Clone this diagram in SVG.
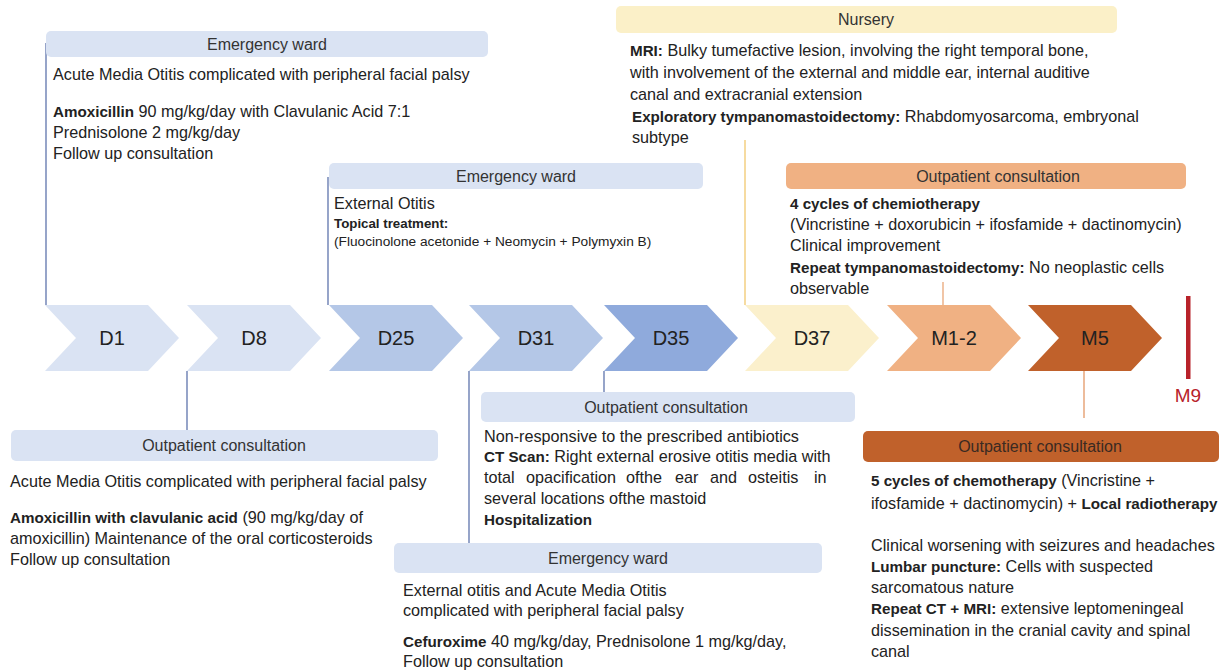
<svg xmlns="http://www.w3.org/2000/svg" width="1224" height="671" viewBox="0 0 1224 671">
<style>
text{font-family:"Liberation Sans",Arial,sans-serif;fill:#222;}
.hd{font-size:16px;text-anchor:middle;fill:#333;}
.bd{font-size:16.2px;}
.bd .b,.bd.b{font-size:15.2px;font-weight:bold;}
.sm{font-size:13.7px;}
.sm.b{font-size:13.3px;font-weight:bold;}
.lab{font-size:20px;text-anchor:middle;fill:#222;}
.hb{fill:#DAE3F3;}
.ln{stroke:#5F74AC;stroke-width:1.3;fill:none;}
</style>
<defs>
<path id="chev" d="M0,0 H103 L134,33 L103,66 H0 L31,33 Z"/>
</defs>
<g id="connectors">
<line class="ln" x1="46" y1="43" x2="46" y2="305"/>
<line class="ln" x1="328" y1="177" x2="328" y2="305"/>
<line class="ln" x1="187" y1="371" x2="187" y2="430"/>
<line class="ln" x1="469" y1="371" x2="469" y2="543"/>
<line class="ln" x1="604" y1="371" x2="604" y2="392"/>
<line x1="745" y1="140" x2="745" y2="305" stroke="#F2C86E" stroke-width="1.3"/>
<line x1="943" y1="282" x2="943" y2="305" stroke="#E9A677" stroke-width="1.3"/>
<line x1="1084" y1="371" x2="1084" y2="418" stroke="#E39866" stroke-width="1.3"/>
</g>
<g id="timeline">
<g id="d1"><use href="#chev" x="45" y="305" fill="#DAE3F3"/><text class="lab" x="112" y="345">D1</text></g>
<g id="d8"><use href="#chev" x="187" y="305" fill="#DAE3F3"/><text class="lab" x="254" y="345">D8</text></g>
<g id="d25"><use href="#chev" x="329" y="305" fill="#B4C7E7"/><text class="lab" x="396" y="345">D25</text></g>
<g id="d31"><use href="#chev" x="469" y="305" fill="#B4C7E7"/><text class="lab" x="536" y="345">D31</text></g>
<g id="d35"><use href="#chev" x="604" y="305" fill="#8FAADC"/><text class="lab" x="671" y="345">D35</text></g>
<g id="d37"><use href="#chev" x="745" y="305" fill="#FBF0CC"/><text class="lab" x="812" y="345">D37</text></g>
<g id="m12"><use href="#chev" x="887" y="305" fill="#F0B183"/><text class="lab" x="954" y="345">M1-2</text></g>
<g id="m5"><use href="#chev" x="1028" y="305" fill="#C0612B"/><text class="lab" x="1095" y="345">M5</text></g>
<g id="m9"><rect x="1186" y="296" width="4.5" height="83" fill="#B8222A"/><text x="1188" y="402" font-size="19" text-anchor="middle" style="fill:#B8222A">M9</text></g>
</g>
<g id="er1">
<rect class="hb" x="46" y="31" width="442" height="26" rx="5"/>
<text class="hd" x="267" y="50">Emergency ward</text>
<text class="bd" x="53" y="80">Acute Media Otitis complicated with peripheral facial palsy</text>
<text class="bd" x="53" y="117"><tspan class="b">Amoxicillin</tspan> 90 mg/kg/day with Clavulanic Acid 7:1</text>
<text class="bd" x="53" y="138">Prednisolone 2 mg/kg/day</text>
<text class="bd" x="53" y="159">Follow up consultation</text>
</g>
<g id="er2">
<rect class="hb" x="329" y="163" width="374" height="26" rx="5"/>
<text class="hd" x="516" y="182">Emergency ward</text>
<text class="bd" x="334" y="209">External Otitis</text>
<text class="sm b" x="334" y="228">Topical treatment:</text>
<text class="sm" x="334" y="246">(Fluocinolone acetonide + Neomycin + Polymyxin B)</text>
</g>
<g id="nursery">
<rect x="616" y="6" width="501" height="27" rx="5" fill="#FBF0C8"/>
<text class="hd" x="866" y="25">Nursery</text>
<text class="bd" x="630" y="56"><tspan class="b">MRI:</tspan> Bulky tumefactive lesion, involving the right temporal bone,</text>
<text class="bd" x="630" y="78">with involvement of the external and middle ear, internal auditive</text>
<text class="bd" x="630" y="100">canal and extracranial extension</text>
<text class="bd" x="632" y="122"><tspan class="b">Exploratory tympanomastoidectomy:</tspan> Rhabdomyosarcoma, embryonal</text>
<text class="bd" x="632" y="143">subtype</text>
</g>
<g id="oc-m12">
<rect x="786" y="163" width="400" height="26" rx="5" fill="#F0B183"/>
<text class="hd" x="998" y="182">Outpatient consultation</text>
<text class="bd b" x="790" y="209">4 cycles of chemiotherapy</text>
<text class="bd" x="790" y="230">(Vincristine + doxorubicin + ifosfamide + dactinomycin)</text>
<text class="bd" x="790" y="251">Clinical improvement</text>
<text class="bd" x="790" y="273"><tspan class="b">Repeat tympanomastoidectomy:</tspan> No neoplastic cells</text>
<text class="bd" x="790" y="294">observable</text>
</g>
<g id="oc-d8">
<rect class="hb" x="11" y="430" width="427" height="31" rx="5"/>
<text class="hd" x="224" y="451">Outpatient consultation</text>
<text class="bd" x="10" y="487">Acute Media Otitis complicated with peripheral facial palsy</text>
<text class="bd" x="10" y="523"><tspan class="b">Amoxicillin with clavulanic acid</tspan> (90 mg/kg/day of</text>
<text class="bd" x="10" y="544">amoxicillin) Maintenance of the oral corticosteroids</text>
<text class="bd" x="10" y="565">Follow up consultation</text>
</g>
<g id="oc-d35">
<rect class="hb" x="481" y="392" width="374" height="30" rx="5"/>
<text class="hd" x="666" y="413">Outpatient consultation</text>
<text class="bd" x="484" y="442">Non-responsive to the prescribed antibiotics</text>
<text class="bd" x="484" y="462"><tspan class="b">CT Scan:</tspan> Right external erosive otitis media with</text>
<text class="bd" y="483"><tspan x="484">total</tspan><tspan x="526">opacification</tspan><tspan x="626">ofthe</tspan><tspan x="675">ear</tspan><tspan x="710">and</tspan><tspan x="748">osteitis</tspan><tspan x="814">in</tspan></text>
<text class="bd" x="484" y="504">several locations ofthe mastoid</text>
<text class="bd b" x="484" y="525">Hospitalization</text>
</g>
<g id="er3">
<rect class="hb" x="394" y="543" width="428" height="30" rx="5"/>
<text class="hd" x="608" y="564">Emergency ward</text>
<text class="bd" x="403" y="596">External otitis and Acute Media Otitis</text>
<text class="bd" x="403" y="616">complicated with peripheral facial palsy</text>
<text class="bd" x="403" y="647"><tspan class="b">Cefuroxime</tspan> 40 mg/kg/day, Prednisolone 1 mg/kg/day,</text>
<text class="bd" x="403" y="667">Follow up consultation</text>
</g>
<g id="oc-m5">
<rect x="863" y="431" width="356" height="31" rx="5" fill="#C0612B"/>
<text class="hd" x="1040" y="452" style="fill:#3A2A22">Outpatient consultation</text>
<text class="bd" x="871" y="486"><tspan class="b">5 cycles of chemotherapy</tspan> (Vincristine +</text>
<text class="bd" x="871" y="509">ifosfamide + dactinomycin) + <tspan class="b">Local radiotherapy</tspan></text>
<text class="bd" x="871" y="551">Clinical worsening with seizures and headaches</text>
<text class="bd" x="871" y="572"><tspan class="b">Lumbar puncture:</tspan> Cells with suspected</text>
<text class="bd" x="871" y="593">sarcomatous nature</text>
<text class="bd" x="871" y="614"><tspan class="b">Repeat CT + MRI:</tspan> extensive leptomeningeal</text>
<text class="bd" x="871" y="636">dissemination in the cranial cavity and spinal</text>
<text class="bd" x="871" y="657">canal</text>
</g>
</svg>
